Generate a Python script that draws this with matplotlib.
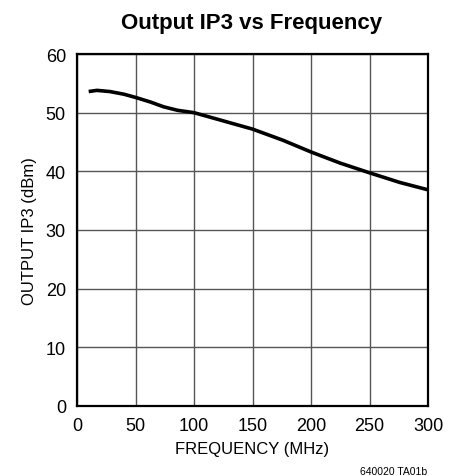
import matplotlib
matplotlib.use("Agg")
import matplotlib.pyplot as plt

plt.rcParams['font.family'] = ['Liberation Sans', 'DejaVu Sans']

freq = [10, 17, 28, 40, 50, 63, 74, 86, 100, 125, 150, 176, 200, 225, 250, 276, 300]
ip3 = [53.6, 53.8, 53.6, 53.15, 52.6, 51.8, 51.0, 50.4, 50.0, 48.6, 47.2, 45.3, 43.3, 41.4, 39.75, 38.1, 36.85]
xticks = [0, 50, 100, 150, 200, 250, 300]
yticks = [0, 10, 20, 30, 40, 50, 60]

fig = plt.figure(figsize=(4.51, 4.77), dpi=100)
ax = fig.add_axes([77/451, 1-407/477, (428-77)/451, (407-55)/477])
ax.plot(freq, ip3, color='black', lw=2.6, solid_capstyle='butt', solid_joinstyle='round')
ax.set_xlim(0, 300)
ax.set_ylim(0, 60)
ax.set_xticks(xticks)
ax.set_yticks(yticks)
ax.grid(True, color='#555555', lw=1.0)
ax.tick_params(length=0, labelsize=13, pad=8)
for s in ax.spines.values():
    s.set_linewidth(1.6)
ax.set_xlabel('FREQUENCY (MHz)', fontsize=12, labelpad=5)
ax.set_ylabel('OUTPUT IP3 (dBm)', fontsize=12, labelpad=6)
fig.text(252/451, 1-24/477, 'Output IP3 vs Frequency', fontsize=16, fontweight='bold', ha='center', va='center')
fig.text(427/451, 1-472/477, '640020 TA01b', fontsize=7.5, ha='right', va='center')
fig.savefig('out.png', dpi=100)
